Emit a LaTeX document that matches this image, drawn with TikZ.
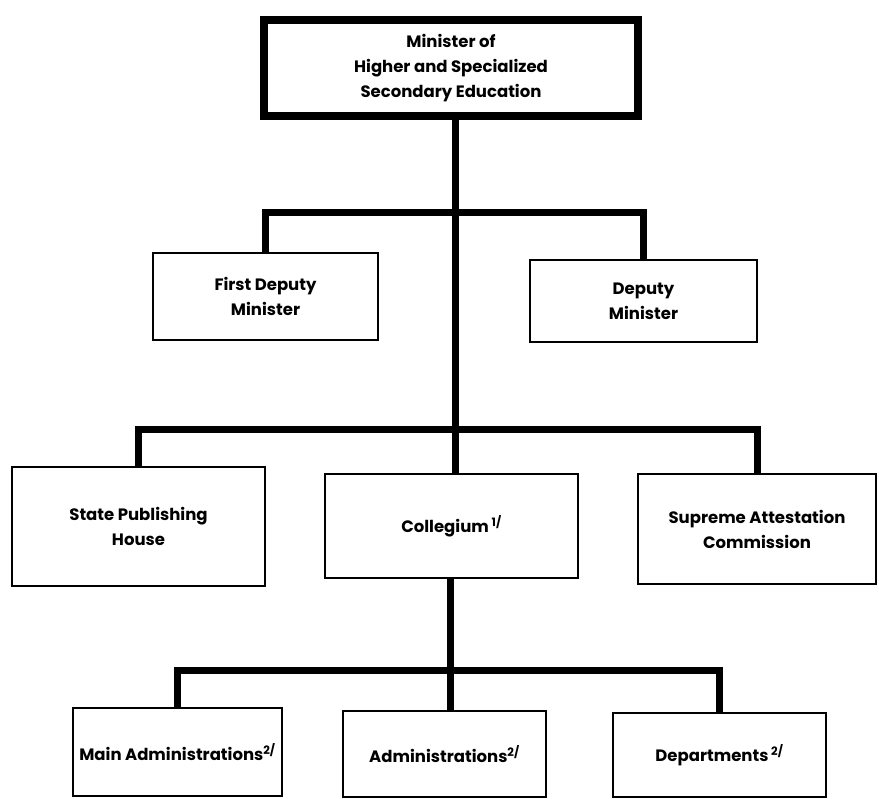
\documentclass[tikz,border=0pt]{standalone}
\usepackage{fontspec}
\setmainfont{Poppins}
\tikzset{
	office/.style = {draw, line width=1.6pt, align=center, inner sep=2pt,
		font=\fontsize{16.5}{25}\selectfont\bfseries},
	head/.style = {office, line width=8pt},
	link/.style = {line width=7pt}
}

\begin{document}
\begin{tikzpicture}[x=1pt, y=-1pt]
	\useasboundingbox (0,0) rectangle (879,799);
	% boxes
	\node[head, minimum width=374pt, minimum height=96pt] (min) at (451,68)
		{Minister of\\Higher and Specialized\\Secondary Education};
	\node[office, minimum width=225pt, minimum height=87pt] (fdm) at (265.5,296.5)
		{First Deputy\\Minister};
	\node[office, minimum width=227pt, minimum height=82pt] (dm) at (643.5,301)
		{Deputy\\Minister};
	\node[office, minimum width=253pt, minimum height=119pt] (pub) at (138.5,526.5)
		{State Publishing\\House};
	\node[office, minimum width=253pt, minimum height=104pt] (col) at (451.5,526)
		{Collegium\,\textsuperscript{1/}};
	\node[office, minimum width=238pt, minimum height=110pt] (att) at (757,529)
		{Supreme Attestation\\Commission};
	\node[office, minimum width=209pt, minimum height=88pt] (madm) at (177.5,752)
		{Main Administrations\textsuperscript{2/}};
	\node[office, minimum width=203pt, minimum height=86pt] (adm) at (444.5,754)
		{Administrations\textsuperscript{2/}};
	\node[office, minimum width=213pt, minimum height=84pt] (dep) at (719.5,755)
		{Departments\,\textsuperscript{2/}};
	% junctions
	\coordinate (j1) at (455,213);
	\coordinate (j2) at (455,430);
	\coordinate (j3) at (450,670);
	% connectors
	\draw[link] (min.south -| j1) -- (col.north -| j1);
	\draw[link] (fdm.north) |- (j1) -| (dm.north);
	\draw[link] (pub.north) |- (j2) -| (att.north);
	\draw[link] (col.south -| j3) -- (adm.north -| j3);
	\draw[link] (madm.north) |- (j3) -| (dep.north);
\end{tikzpicture}
\end{document}
